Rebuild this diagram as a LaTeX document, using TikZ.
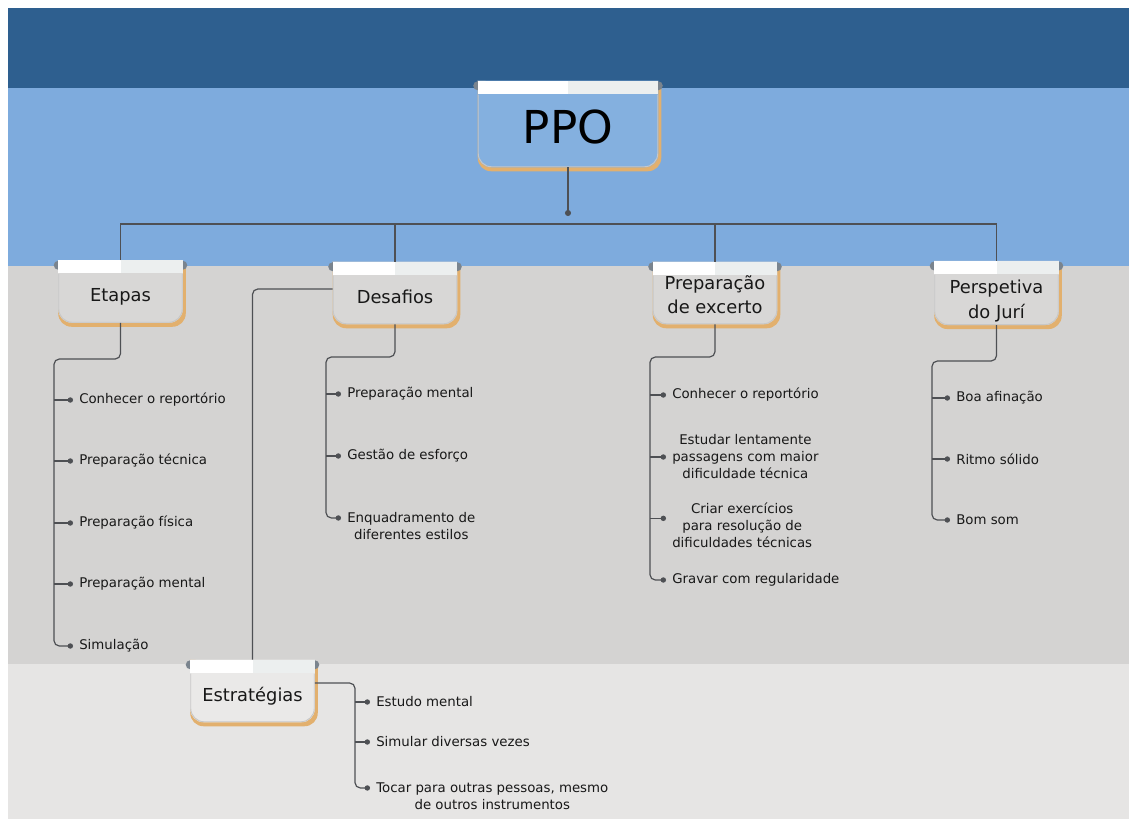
\documentclass[tikz,border=0pt]{standalone}
\usepackage{fontspec}
\setmainfont{DejaVu Sans}
\usepackage{xcolor}
\usepackage{tikz}
\usetikzlibrary{arrows.meta}
\usetikzlibrary{calc}
\definecolor{topblue}{RGB}{46, 95, 143}
\definecolor{skyblue}{RGB}{126, 171, 221}
\definecolor{midgray}{RGB}{212, 211, 210}
\definecolor{lowgray}{RGB}{230, 229, 228}
\definecolor{tabgray}{RGB}{216, 215, 214}
\definecolor{tablight}{RGB}{234, 233, 232}
\definecolor{tabblue}{RGB}{132, 176, 223}
\definecolor{tabshadow}{RGB}{226, 176, 110}
\definecolor{tabear}{RGB}{122, 132, 142}
\definecolor{tabstrip}{RGB}{236, 239, 239}
\definecolor{linkgray}{RGB}{78, 80, 84}
\definecolor{inkblack}{RGB}{24, 24, 24}
\pgfdeclarelayer{bands}
\pgfdeclarelayer{tabs}
\pgfsetlayers{bands,tabs,main}

% tab look behind a named node: shadow, body, ears and top strip
\newcommand\tabdeco[2]{%
  \begin{pgfonlayer}{tabs}
    \fill[tabshadow, rounded corners=10pt] (#1.north west) -- ($(#1.south west)+(0,4)$) -- ($(#1.south east)+(3,4)$) -- ($(#1.north east)+(3,6)$);
    \fill[#2, rounded corners=10pt] (#1.north west) -- (#1.south west) -- (#1.south east) -- (#1.north east);
    \draw[black!22, line width=0.7pt, rounded corners=10pt] ($(#1.north west)+(0.5,14)$) -- ($(#1.south west)+(0.5,-0.5)$) -- ($(#1.south east)+(-0.5,-0.5)$) -- ($(#1.north east)+(-0.5,14)$);
    \fill[tabear] ($(#1.north west)+(0,5)$) circle (4.5);
    \fill[tabear] ($(#1.north east)+(0,5)$) circle (4.5);
    \fill[white] (#1.north west) rectangle ($(#1.north)+(0,13)$);
    \fill[tabstrip] (#1.north) rectangle ($(#1.north east)+(0,13)$);
  \end{pgfonlayer}}

\begin{document}
\begin{tikzpicture}[x=0.75pt, y=-0.75pt,
    tab/.style = {minimum width=93pt, minimum height=46.5pt, inner sep=2pt, align=center, text=inkblack, font=\fontsize{13.4}{17.5}\selectfont},
    onetab/.style = {tab, text height=15pt, text depth=0pt},
    toptab/.style = {tab, minimum width=135pt, minimum height=64.5pt, text height=29pt, text depth=0pt, text=black, font=\fontsize{34}{40}\selectfont},
    item/.style = {anchor=west, inner xsep=4.5pt, inner ysep=1pt, align=center, text=inkblack, font=\fontsize{10}{12.75}\selectfont},
    link/.style = {draw=linkgray, line width=0.9pt},
    dotlink/.style = {link, -{Circle[length=4pt]}}]
    \useasboundingbox (0,0) rectangle (1129,819);

    % background bands
    \begin{pgfonlayer}{bands}
        \fill[white] (0,0) rectangle (1129,819);
        \fill[topblue] (8,8) rectangle (1129,88);
        \fill[skyblue] (8,88) rectangle (1129,266);
        \fill[midgray] (8,266) rectangle (1129,664);
        \fill[lowgray] (8,664) rectangle (1129,819);
    \end{pgfonlayer}

    % tabs
    \node[toptab] (ppo) at (568,124) {PPO};
    \node[onetab] (etapas) at (120.5,291.5) {Etapas};
    \node[onetab] (desafios) at (395,293) {Desafios};
    \node[tab] (excerto) at (715,293) {\rule{0pt}{13pt}Preparação\\de excerto};
    \node[tab] (juri) at (996.5,293) {\rule{0pt}{22pt}Perspetiva\\[1.5pt]do Jurí};
    \node[onetab] (estrat) at (252.5,691) {Estratégias};
    \tabdeco{ppo}{tabblue}
    \tabdeco{etapas}{tabgray}
    \tabdeco{desafios}{tabgray}
    \tabdeco{excerto}{tabgray}
    \tabdeco{juri}{tabgray}
    \tabdeco{estrat}{tablight}

    % top level links
    \coordinate (hub) at (568,216);
    \coordinate (bar) at (568,224);
    \draw[link, -{Circle[length=4.5pt]}] (ppo.south) -- (hub);
    \draw[link] (etapas.north) |- (bar) -| (juri.north);
    \draw[link] (desafios.north) -- (desafios.north |- bar);
    \draw[link] (excerto.north) -- (excerto.north |- bar);
    \draw[link, rounded corners=4pt] ([yshift=3pt]desafios.west) -| (estrat.north);

    % Etapas
    \node[item] (e1) at (73,400) {Conhecer o reportório};
    \node[item] (e2) at (73,461) {Preparação técnica};
    \node[item] (e3) at (73,523) {Preparação física};
    \node[item] (e4) at (73,584) {Preparação mental};
    \node[item] (e5) at (73,646) {Simulação};
    \coordinate (etapasSpine) at (54,359);
    \draw[dotlink, rounded corners=4pt] (etapas.south) |- (etapasSpine) |- (e5.west);
    \draw[dotlink] (e1.west -| etapasSpine) -- (e1.west);
    \draw[dotlink] (e2.west -| etapasSpine) -- (e2.west);
    \draw[dotlink] (e3.west -| etapasSpine) -- (e3.west);
    \draw[dotlink] (e4.west -| etapasSpine) -- (e4.west);

    % Desafios
    \node[item] (d1) at (341,394) {Preparação mental};
    \node[item] (d2) at (341,456) {Gestão de esforço};
    \node[item] (d3) at (341,526.5) {Enquadramento de\\diferentes estilos};
    \coordinate (desafiosSpine) at (326,357);
    \draw[dotlink, rounded corners=4pt] (desafios.south) |- (desafiosSpine) |- ([yshift=6.4pt]d3.west);
    \draw[dotlink] (d1.west -| desafiosSpine) -- (d1.west);
    \draw[dotlink] (d2.west -| desafiosSpine) -- (d2.west);

    % Preparacao de excerto
    \node[item] (p1) at (666,395) {Conhecer o reportório};
    \node[item] (p2) at (666,457) {Estudar lentamente\\passagens com maior\\dificuldade técnica};
    \node[item] (p3) at (666,525) {Criar exercícios\\para resolução de\\dificuldades técnicas};
    \node[item] (p4) at (666,580) {Gravar com regularidade};
    \coordinate (excertoSpine) at (650,357);
    \draw[dotlink, rounded corners=4pt] (excerto.south) |- (excertoSpine) |- (p4.west);
    \draw[dotlink] (p1.west -| excertoSpine) -- (p1.west);
    \draw[dotlink] (p2.west -| excertoSpine) -- (p2.west);
    \draw[dotlink] ([yshift=5pt]p3.west -| excertoSpine) -- ([yshift=5pt]p3.west);

    % Perspetiva do Juri
    \node[item] (j1) at (950,398) {Boa afinação};
    \node[item] (j2) at (950,459) {Ritmo sólido};
    \node[item] (j3) at (950,520) {Bom som};
    \coordinate (juriSpine) at (932,361);
    \draw[dotlink, rounded corners=4pt] (juri.south) |- (juriSpine) |- (j3.west);
    \draw[dotlink] (j1.west -| juriSpine) -- (j1.west);
    \draw[dotlink] (j2.west -| juriSpine) -- (j2.west);

    % Estrategias
    \node[item] (s1) at (370,702) {Estudo mental};
    \node[item] (s2) at (370,742) {Simular diversas vezes};
    \node[item] (s3) at (370,796.5) {Tocar para outras pessoas, mesmo\\de outros instrumentos};
    \coordinate (estratSpine) at (355,683);
    \draw[dotlink, rounded corners=4pt] ([yshift=6pt]estrat.east) -- (estratSpine) |- ([yshift=6.4pt]s3.west);
    \draw[dotlink] (s1.west -| estratSpine) -- (s1.west);
    \draw[dotlink] (s2.west -| estratSpine) -- (s2.west);
\end{tikzpicture}
\end{document}
